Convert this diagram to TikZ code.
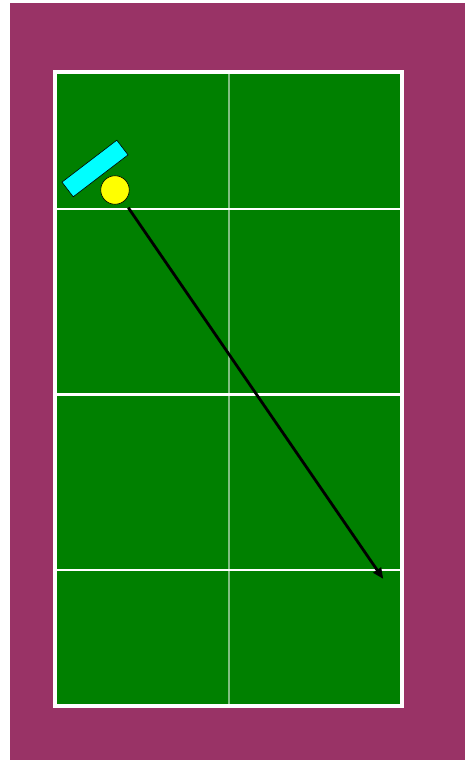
\documentclass[tikz,border=0pt]{standalone}
\usetikzlibrary{arrows.meta}
\definecolor{maroon}{RGB}{153,51,102}
\definecolor{court}{RGB}{0,128,0}
\definecolor{midline}{RGB}{128,191,128}
\definecolor{racketcol}{RGB}{0,255,255}
\definecolor{ballcol}{RGB}{255,255,0}
\tikzset{
  courtline/.style={white, line width=2pt},
  shot/.style={black, line width=2.8pt, -{Triangle[length=11pt,width=9pt]}},
}
\begin{document}
\begin{tikzpicture}[x=1pt,y=-1pt]
\useasboundingbox (0,0) rectangle (465,760);
\fill[maroon] (10,3) rectangle (465,760);
\fill[court] (55,72) rectangle (402,706);
\draw[midline, line width=2pt] (229,72) -- (229,706);
\coordinate (l1a) at (55,208.5); \coordinate (l1b) at (402,208.5);
\coordinate (l2a) at (55,394.5); \coordinate (l2b) at (402,394.5);
\coordinate (l3a) at (55,570.3); \coordinate (l3b) at (402,570.3);
\draw[courtline] (l1a) -- (l1b);
\draw[courtline, line width=2.5pt] (l2a) -- (l2b);
\draw[courtline] (l3a) -- (l3b);
\draw[white, line width=3.5pt] (55,72) rectangle (402,706);
\node[draw=black, fill=racketcol, line width=0.6pt, rotate=37.4, minimum width=69pt, minimum height=18.5pt, inner sep=0pt] (racket) at (95,168.5) {};
\node[draw=black, fill=ballcol, circle, line width=0.6pt, minimum size=28.5pt, inner sep=0pt] (ball) at (115,190) {};
\coordinate (start) at (128.3,207.7);
\coordinate (target) at (383.3,579);
\draw[shot] (start) -- (target);
\end{tikzpicture}
\end{document}
